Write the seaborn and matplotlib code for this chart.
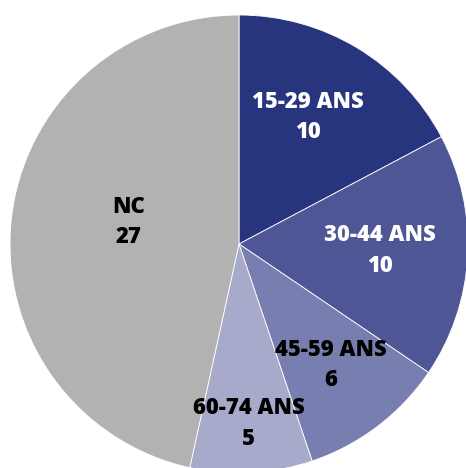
import numpy as np
import matplotlib
matplotlib.use('Agg')
import matplotlib.pyplot as plt
import seaborn as sns

# Data
categories = ['15-29 ANS', '30-44 ANS', '45-59 ANS', '60-74 ANS', 'NC']
counts = [10, 10, 6, 5, 27]
colors = ['#27357e', '#4f5696', '#797eb0', '#a7aacb', '#b2b2b2']
text_colors = ['white', 'white', 'black', 'black', 'black']
# label placement (fraction of radius, angle tweak in degrees)
label_radius = [0.63, 0.615, 0.665, 0.785, 0.49]
label_shift = [2.5, 0.5, 0, 0, -5]

sns.set_theme(style='white')
plt.rcParams['font.family'] = ['Open Sans', 'DejaVu Sans']

fig = plt.figure(figsize=(4.66, 4.68), dpi=100)
# pie centre at (239, 244) px from top-left, radius 229 px
ax = fig.add_axes([10 / 466, -5 / 468, 458 / 466, 458 / 468])

wedges, _ = ax.pie(counts, colors=colors, startangle=90, counterclock=False,
                   radius=1.0,
                   wedgeprops=dict(edgecolor='white', linewidth=0.6))

for w, cat, n, tc, r, s in zip(wedges, categories, counts, text_colors,
                               label_radius, label_shift):
    mid = np.deg2rad((w.theta1 + w.theta2) / 2 + s)
    ax.text(r * np.cos(mid), r * np.sin(mid), f'{cat}\n{n}',
            ha='center', va='center', color=tc, fontsize=15.8,
            fontweight='heavy', linespacing=1.35)

ax.set_xlim(-1, 1)
ax.set_ylim(-1, 1)
ax.set_aspect('equal')
ax.axis('off')

fig.savefig('out.png', dpi=100)
